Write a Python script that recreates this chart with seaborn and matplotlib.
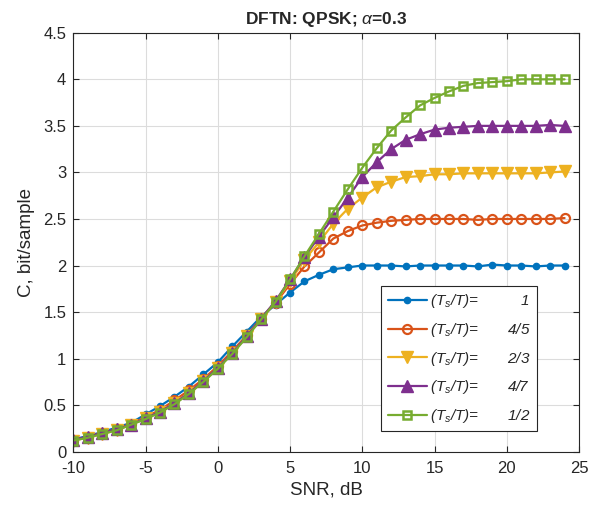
import numpy as np
import pandas as pd
import matplotlib
matplotlib.use("Agg")
import matplotlib.pyplot as plt
import seaborn as sns

# ---- data ----
snr_db = list(range(-10, 25))

c_1 = [0.13, 0.17, 0.21, 0.26, 0.31, 0.40, 0.49, 0.59, 0.70, 0.83,
       0.96, 1.13, 1.29, 1.45, 1.58, 1.71, 1.83, 1.90, 1.96, 1.98,
       2.00, 2.00, 2.00, 1.99, 2.00, 2.00, 2.00, 2.00, 1.99, 2.01,
       2.00, 2.00, 1.99, 2.00, 2.00]
c_4_5 = [0.12, 0.16, 0.20, 0.24, 0.30, 0.37, 0.45, 0.55, 0.66, 0.78,
         0.92, 1.08, 1.25, 1.43, 1.60, 1.80, 1.99, 2.14, 2.29, 2.37,
         2.43, 2.46, 2.48, 2.49, 2.50, 2.50, 2.50, 2.50, 2.49, 2.50,
         2.50, 2.50, 2.50, 2.50, 2.51]
c_2_3 = [0.12, 0.15, 0.19, 0.23, 0.29, 0.36, 0.43, 0.52, 0.63, 0.76,
         0.90, 1.06, 1.24, 1.43, 1.61, 1.83, 2.06, 2.25, 2.45, 2.61,
         2.73, 2.84, 2.90, 2.95, 2.96, 2.98, 2.98, 2.99, 2.99, 2.99,
         2.99, 2.99, 2.99, 3.00, 3.01]
c_4_7 = [0.13, 0.16, 0.20, 0.24, 0.29, 0.36, 0.43, 0.52, 0.63, 0.76,
         0.90, 1.06, 1.24, 1.43, 1.62, 1.85, 2.09, 2.31, 2.52, 2.73,
         2.95, 3.11, 3.25, 3.35, 3.41, 3.46, 3.48, 3.49, 3.50, 3.50,
         3.50, 3.50, 3.50, 3.51, 3.50]
c_1_2 = [0.12, 0.15, 0.19, 0.23, 0.29, 0.35, 0.42, 0.51, 0.62, 0.75,
         0.89, 1.05, 1.23, 1.42, 1.61, 1.85, 2.10, 2.34, 2.58, 2.82,
         3.05, 3.26, 3.45, 3.59, 3.72, 3.80, 3.87, 3.93, 3.96, 3.97,
         3.98, 4.00, 4.00, 4.00, 4.00]

ratios = ['1', '4/5', '2/3', '4/7', '1/2']
series = [c_1, c_4_5, c_2_3, c_4_7, c_1_2]

x_ticks = [-10, -5, 0, 5, 10, 15, 20, 25]
y_ticks = [0, 0.5, 1, 1.5, 2, 2.5, 3, 3.5, 4, 4.5]
y_ticklabels = ['0', '0.5', '1', '1.5', '2', '2.5', '3', '3.5', '4', '4.5']

# ---- style ----
sns.set_style('ticks')
plt.rcParams['font.family'] = ['Liberation Sans', 'DejaVu Sans']
plt.rcParams['axes.unicode_minus'] = False
plt.rcParams['mathtext.fontset'] = 'custom'
plt.rcParams['mathtext.rm'] = 'Liberation Sans'
plt.rcParams['mathtext.it'] = 'Liberation Sans:italic'
plt.rcParams['mathtext.bf'] = 'Liberation Sans:bold'

STYLES = [
    dict(color='#0072BD', marker='o', ms=4.5, mfc='#0072BD', mec='#0072BD', mew=1.0),
    dict(color='#D95319', marker='o', ms=6.5, mfc='none', mec='#D95319', mew=1.6),
    dict(color='#EDB120', marker='v', ms=8.5, mfc='#EDB120', mec='#EDB120', mew=1.0),
    dict(color='#7E2F8E', marker='^', ms=8.5, mfc='#7E2F8E', mec='#7E2F8E', mew=1.0),
    dict(color='#77AC30', marker='s', ms=6, mfc='none', mec='#77AC30', mew=1.8),
]
PADS = {'1': 10, '4/5': 7, '2/3': 7, '4/7': 7, '1/2': 7}

df = pd.DataFrame({
    'snr': np.tile(snr_db, len(ratios)),
    'cap': np.concatenate(series),
    'ratio': np.repeat(ratios, len(snr_db)),
})

fig = plt.figure(figsize=(5.96, 5.09), dpi=100)
ax = fig.add_axes([0.123, 0.1126, 0.8485, 0.823])

for r, st in zip(ratios, STYLES):
    sub = df[df['ratio'] == r]
    label = '(' + r'$T_s$' + '/T)=' + ' ' * PADS[r] + r
    sns.lineplot(data=sub, x='snr', y='cap', ax=ax, color=st['color'],
                 linewidth=1.6, marker=st['marker'], markersize=st['ms'],
                 markerfacecolor=st['mfc'], markeredgecolor=st['mec'],
                 markeredgewidth=st['mew'], label=label)

ax.set_xlim(-10, 25)
ax.set_ylim(0, 4.5)
ax.set_xticks(x_ticks)
ax.set_yticks(y_ticks)
ax.set_yticklabels(y_ticklabels)
ax.grid(True, color='#DCDCDC', linewidth=0.8)
ax.set_axisbelow(True)
ax.tick_params(direction='in', length=4, width=0.8, top=True, right=True,
               labelsize=12, colors='#262626')
ax.tick_params(axis='x', pad=7)
ax.tick_params(axis='y', pad=5)
for sp in ax.spines.values():
    sp.set_linewidth(0.8)
    sp.set_color('#262626')
    sp.set_visible(True)

ax.set_xlabel('SNR, dB', fontsize=13.5, color='#262626', labelpad=4)
ax.set_ylabel('C, bit/sample', fontsize=13.5, color='#262626', labelpad=6)
ax.set_title(r'DFTN: QPSK; $\alpha$=0.3', fontsize=12.5, fontweight='bold', pad=6)

leg = ax.legend(loc='lower right', bbox_to_anchor=(0.917, 0.049), borderaxespad=0,
                prop={'size': 11, 'style': 'italic'}, frameon=True, fancybox=False,
                handlelength=2.6, labelspacing=0.7, handletextpad=0.2,
                borderpad=0.4, framealpha=1)
leg.get_frame().set_edgecolor('#262626')
leg.get_frame().set_linewidth(0.8)

fig.savefig('out.png', dpi=100)
